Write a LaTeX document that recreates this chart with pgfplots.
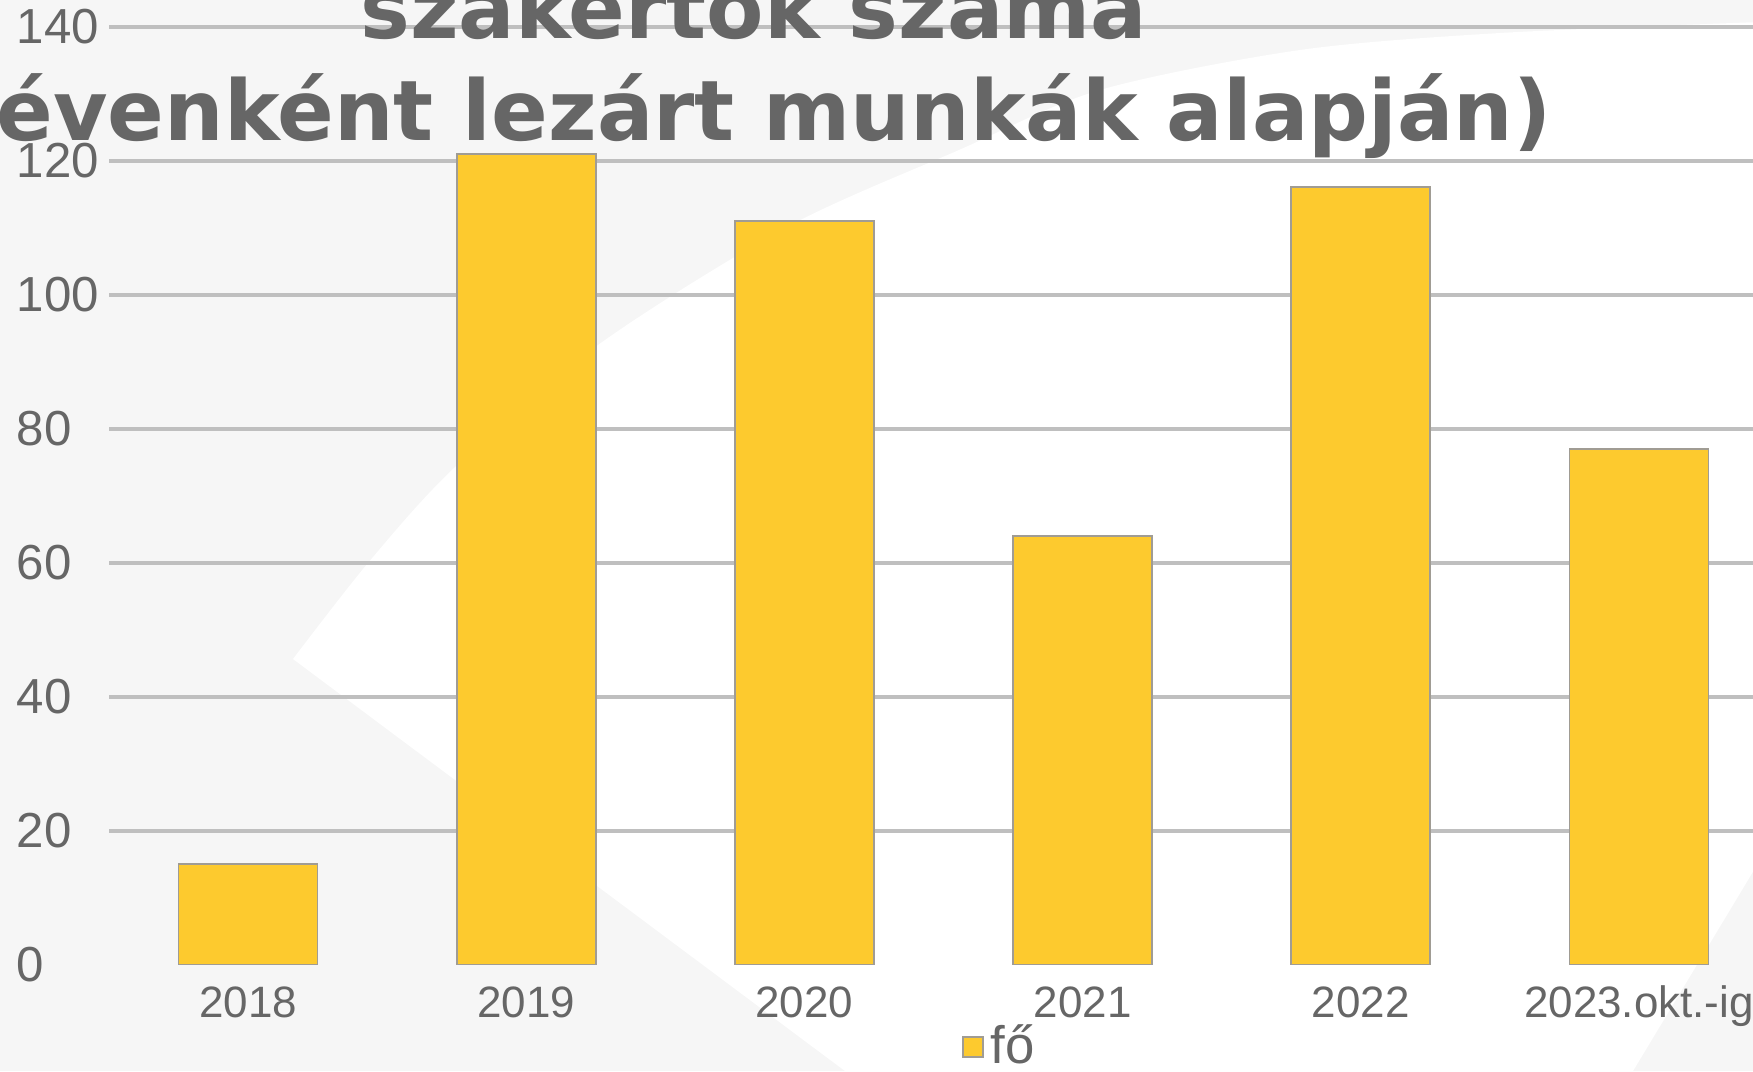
\documentclass[border=0pt]{standalone}
\usepackage{pgfplots}
\pgfplotsset{compat=1.18}
\usepackage{fontspec}
\setmainfont{Liberation Sans}
\newfontfamily\titlefont{DejaVu Sans}
\definecolor{bg}{HTML}{F6F6F6}
\definecolor{barfill}{HTML}{FDCA2E}
\definecolor{barline}{HTML}{A09C94}
\definecolor{gridc}{HTML}{BFBFBF}
\definecolor{txt}{HTML}{666666}
\begin{document}
\begin{tikzpicture}
\path[use as bounding box] (0,0) rectangle (175.3mm,-107.1mm);
\clip (0,0) rectangle (175.3mm,-107.1mm);
\fill[bg] (0,0) rectangle (175.3mm,-107.1mm);
\begin{scope}[x=0.1mm,y=-0.1mm]
\fill[white] plot[smooth, tension=0.5] coordinates {(293,659) (368,563) (454,468) (598,345) (787,227) (959,150) (1100,90) (1300,50) (1500,33) (1760,22)} -- (1760,860) -- (1633,1071) -- (845,1071) -- cycle;
\end{scope}
\begin{axis}[
  at={(10.9mm,-96.45mm)}, anchor=south west,
  scale only axis, width=166.9mm, height=93.8mm,
  xmin=-0.5, xmax=5.5, ymin=0, ymax=140,
  ybar, bar width=13.9mm,
  axis line style={draw=none},
  major tick length=0pt,
  xtick={0,...,5},
  xticklabels={2018,2019,2020,2021,2022,2023.okt.-ig},
  ytick={20,40,...,140},
  extra y ticks={0},
  extra y tick style={grid=none},
  ymajorgrids, grid style={line width=0.4mm, gridc},
  /pgf/number format/assume math mode=true,
  yticklabel style={anchor=west, xshift=-9.3mm, inner sep=0pt, font=\fontsize{14}{14}\selectfont, text=txt},
  xticklabel style={anchor=base, yshift=-5.25mm, inner sep=0pt, font=\fontsize{12.5}{12.5}\selectfont, text=txt},
  legend style={draw=none, fill=none, at={(0.535,-0.088)}, anchor=center, font=\fontsize{15}{15}\selectfont\color{txt}, inner sep=0pt},
]
\addplot[fill=barfill, draw=barline, line width=0.18mm,
  legend image code/.code={\draw[fill=barfill, draw=barline, line width=0.15mm] (0mm,-1mm) rectangle (2mm,1mm);}]
  coordinates {(0,15) (1,121) (2,111) (3,64) (4,116) (5,77)};
\addlegendentry{fő}
\end{axis}
\node[anchor=base west, inner sep=0pt, text=txt, font=\titlefont\bfseries\fontsize{23.8}{23.8}\selectfont] at (-0.4mm,-14.1mm) {évenként lezárt munkák alapján)};
\node[anchor=base, inner sep=0pt, text=txt, font=\titlefont\bfseries\fontsize{23.8}{23.8}\selectfont] at (75.4mm,-3.9mm) {szakértők száma};
\end{tikzpicture}
\end{document}
